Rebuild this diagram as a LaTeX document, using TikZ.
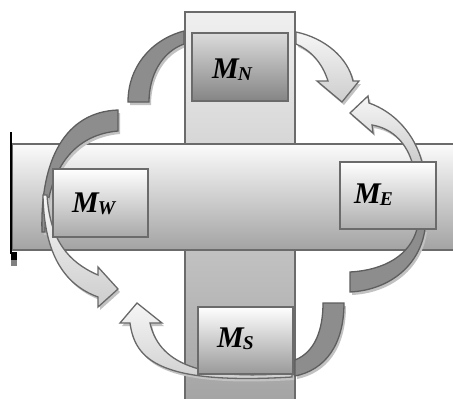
\documentclass[tikz,border=0pt]{standalone}
\usepackage{fontspec}
\setmainfont{Liberation Serif}
\definecolor{edgegray}{HTML}{6B6B6B}
\definecolor{darkfill}{HTML}{8D8D8D}
\definecolor{darkedge}{HTML}{5E5E5E}
\definecolor{lighttop}{HTML}{F6F6F6}
\definecolor{lightbot}{HTML}{CDCDCD}
\definecolor{lightedge}{HTML}{686868}
\definecolor{shadowgray}{HTML}{C2C2C2}
\definecolor{vbtop}{HTML}{F0F0F0}
\definecolor{vbbot}{HTML}{A2A2A2}
\definecolor{hbtop}{HTML}{FBFBFB}
\definecolor{hbbot}{HTML}{A3A3A3}
\newcommand\mlab[1]{{\fontsize{30}{30}\selectfont\bfseries\itshape M\kern-1pt\raisebox{-2.5pt}{\fontsize{19.5}{19.5}\selectfont #1}}}
\begin{document}
\begin{tikzpicture}[x=1pt,y=-1pt,
  boxstyle/.style={draw=edgegray, line width=1.3pt, rectangle, inner sep=0pt},
  darkband/.style={fill=darkfill, draw=darkedge, line width=1.3pt, line join=miter},
  lightband/.style={top color=lighttop, bottom color=lightbot, draw=lightedge, line width=1.3pt, line join=miter},
  shadowst/.style={fill=shadowgray, draw=none, shift={(2,3)}},
  lbl/.style={anchor=base west, inner sep=0pt, text=black}]
\useasboundingbox (0,0) rectangle (453,399);
\clip (0,0) rectangle (453,399);
% band paths
\def\pathA{(128,102) .. controls (128,68) and (150,40) .. (184,31) -- (184,44) .. controls (162,52) and (149,75) .. (149,102) -- cycle}
\def\pathB{(296,32) .. controls (325,38) and (348,58) .. (353,81) -- (359,81) -- (342,102) -- (317,81) -- (328,81) .. controls (322,62) and (310,50) .. (296,44) -- cycle}
\def\pathC{(422,162) .. controls (415,135) and (395,112) .. (369,103) -- (368,96) -- (350,113) -- (373,133) -- (372,125) .. controls (390,128) and (405,140) .. (412,162) -- cycle}
\def\pathD{(425,229) .. controls (420,265) and (390,290) .. (350,292) -- (350,272) .. controls (385,270) and (410,255) .. (417,229) -- cycle}
\def\pathE{(344,303) .. controls (344,345) and (325,370) .. (295,376) -- (295,360) .. controls (315,352) and (323,330) .. (323,303) -- cycle}
\def\pathF{(130,323) .. controls (135,360) and (160,385) .. (292,377) -- (292,373) .. controls (210,380) and (160,368) .. (150,323) -- (162,323) -- (137,303) -- (120,323) -- cycle}
\def\pathG{(118,110) .. controls (65,112) and (40,160) .. (42,232) -- (45,232) .. controls (46,175) and (70,135) .. (118,131) -- cycle}
\def\pathH{(43,195) .. controls (44,255) and (65,285) .. (98,297) -- (98,307) -- (118,289) -- (98,267) -- (98,275) .. controls (68,262) and (50,240) .. (47,195) -- cycle}
% top bands
\fill[shadowst] \pathA;
\path[darkband] \pathA;
\fill[shadowst] \pathB;
\path[lightband] \pathB;
% bars
\path[top color=vbtop, bottom color=vbbot, draw=edgegray, line width=1.3pt] (185,12) rectangle (295,412);
\path[top color=hbtop, bottom color=hbbot, draw=edgegray, line width=1.3pt] (12,144) rectangle (466,250);
% wall
\draw[line width=2pt, black] (11,132) -- (11,254);
\fill[black] (11,252) rectangle (17,260);
\fill[gray] (11,260) rectangle (17,266);
% other bands
\fill[shadowst] \pathC;
\path[lightband] \pathC;
\fill[shadowst] \pathD;
\path[darkband] \pathD;
\fill[shadowst] \pathF;
\path[lightband] \pathF;
\fill[shadowst] \pathE;
\path[darkband] \pathE;
\fill[shadowst] \pathG;
\path[darkband] \pathG;
\fill[shadowst] \pathH;
\path[lightband] \pathH;
% boxes
\node[boxstyle, top color=white!86!black, bottom color=black!48, minimum width=96pt, minimum height=68pt] (boxN) at (240,67) {};
\node[boxstyle, top color=white, bottom color=black!32, minimum width=96pt, minimum height=67pt] (boxE) at (388,195.5) {};
\node[boxstyle, top color=white, bottom color=black!34, minimum width=95pt, minimum height=68pt] (boxW) at (100.5,203) {};
\node[boxstyle, top color=white, bottom color=black!40, minimum width=95pt, minimum height=67pt] (boxS) at (245.5,340.5) {};
% labels
\node[lbl] (labN) at (212,78) {\mlab{N}};
\node[lbl] (labE) at (354,203) {\mlab{E}};
\node[lbl] (labW) at (72,212) {\mlab{W}};
\node[lbl] (labS) at (217,347) {\mlab{S}};
\end{tikzpicture}
\end{document}
